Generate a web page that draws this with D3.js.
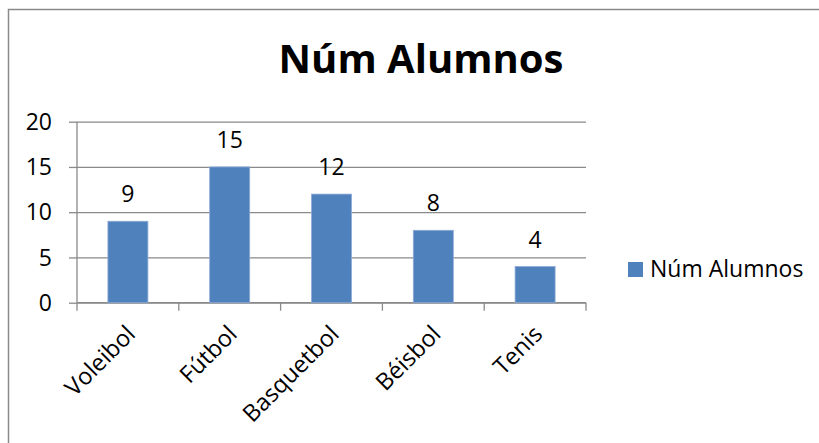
<!DOCTYPE html>
<html><head><meta charset="utf-8">
<script src="https://cdn.jsdelivr.net/npm/d3@7"></script>
<style>html,body{margin:0;padding:0;background:#fff;} svg{display:block;font-family:"Open Sans",sans-serif;}</style>
</head><body>
<svg id="c" width="819" height="443"></svg>
<script>
const categories = ["Voleibol", "Fútbol", "Basquetbol", "Béisbol", "Tenis"];
const values = [9, 15, 12, 8, 4];
const yTicks = [0, 5, 10, 15, 20];
const seriesName = "Núm Alumnos";
const chartTitle = "Núm Alumnos";

const svg = d3.select("#c");
const pLeft = 77, pRight = 586, pTop = 121.7, pBottom = 302.7;
const x = d3.scaleBand().domain(categories).range([pLeft, pRight]).paddingInner(0.607).paddingOuter(0.3035);
const y = d3.scaleLinear().domain([0, 20]).range([pBottom, pTop]);
const grid = "#8a8a8a";

// outer border
svg.append("path").attr("d", "M8.5,443 L8.5,9.5 L819,9.5").attr("fill", "none").attr("stroke", "#8a8a8a").attr("stroke-width", 1.5);

// title
svg.append("text").attr("x", 421).attr("y", 73.3).attr("text-anchor", "middle")
  .attr("font-weight", "bold").attr("font-size", 40).attr("fill", "#000").text(chartTitle);

// gridlines + left ticks
const yAxis = d3.axisLeft(y).tickValues(yTicks).tickSize(8).tickPadding(17);
const gy = svg.append("g").attr("transform", `translate(${pLeft},0)`).call(yAxis);
gy.select(".domain").attr("stroke", grid).attr("stroke-width", 1.3).attr("d", `M0,${pTop}V${pBottom}`);
gy.selectAll(".tick line").attr("stroke", grid).attr("stroke-width", 1.3);
gy.selectAll(".tick").append("line").attr("x1", 0).attr("x2", pRight - pLeft).attr("stroke", grid).attr("stroke-width", 1.3);
gy.selectAll(".tick text").attr("font-size", 23).attr("fill", "#000").attr("font-family", "Open Sans").attr("dy", "0.33em");

// x axis
const step = x.step();
const bounds = d3.range(categories.length + 1).map(i => pLeft + i * step);
const gx = svg.append("g");
gx.append("line").attr("x1", pLeft).attr("x2", pRight).attr("y1", pBottom).attr("y2", pBottom).attr("stroke", grid).attr("stroke-width", 1.3);
gx.selectAll("line.t").data(bounds).join("line").attr("class", "t")
  .attr("x1", d => d).attr("x2", d => d).attr("y1", pBottom).attr("y2", pBottom + 8)
  .attr("stroke", grid).attr("stroke-width", 1.3);

// bars
svg.append("g").selectAll("rect").data(values).join("rect")
  .attr("x", (d, i) => x(categories[i])).attr("width", x.bandwidth())
  .attr("y", d => y(d)).attr("height", d => y(0) - y(d))
  .attr("fill", "#4F81BD").attr("stroke", "#8eaad6").attr("stroke-width", 0.8);

// data labels
svg.append("g").selectAll("text").data(values).join("text")
  .attr("x", (d, i) => x(categories[i]) + x.bandwidth() / 2)
  .attr("y", d => y(d) - 19).attr("text-anchor", "middle").attr("font-size", 23).attr("fill", "#000")
  .text(d => d);

// category labels
svg.append("g").selectAll("text").data(categories).join("text")
  .attr("transform", d => `translate(${x(d) + x.bandwidth() / 2 + 3},${pBottom + 27}) rotate(-45)`)
  .attr("text-anchor", "end").attr("dy", "0.35em").attr("font-size", 23.5).attr("fill", "#000")
  .text(d => d);

// legend
svg.append("rect").attr("x", 628).attr("y", 262).attr("width", 15).attr("height", 15).attr("fill", "#4F81BD");
svg.append("text").attr("x", 650).attr("y", 277.3).attr("font-size", 23).attr("fill", "#000").text(seriesName);
</script>
</body></html>
